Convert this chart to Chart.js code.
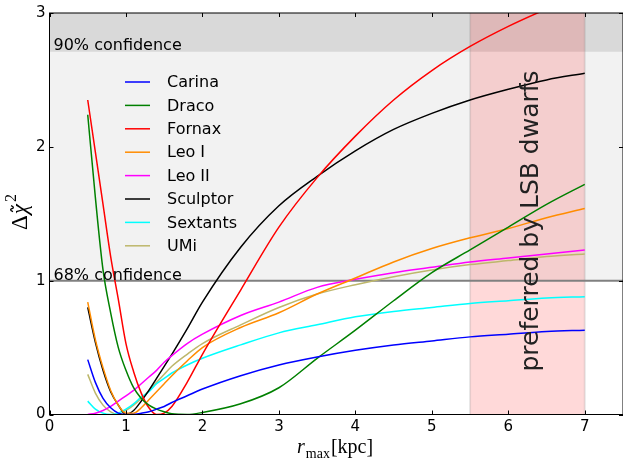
<!DOCTYPE html>
<html>
<head>
<meta charset="utf-8">
<script src="https://cdn.jsdelivr.net/npm/chart.js@4.4.1/dist/chart.umd.min.js"></script>
<style>
  html, body { margin: 0; padding: 0; background: #fff; }
  canvas { display: block; }
</style>
</head>
<body>
<canvas id="chi2Chart" width="623" height="461"></canvas>
<script>
// r_max grid (kpc) shared by all dwarfs
const rmax = [0.5, 0.6, 0.7, 0.8, 0.9, 1.0, 1.1, 1.2, 1.3, 1.4, 1.5, 1.6, 1.8, 2.0, 2.5, 3.0, 3.5, 4.0, 4.5, 5.0, 5.5, 6.0, 6.5, 7.0];

const carina   = [0.41, 0.24, 0.12, 0.05, 0.01, 0.0, 0.0, 0.01, 0.02, 0.04, 0.06, 0.09, 0.14, 0.19, 0.29, 0.37, 0.43, 0.48, 0.52, 0.55, 0.58, 0.60, 0.62, 0.63];
const draco    = [2.24, 1.62, 1.08, 0.76, 0.50, 0.33, 0.20, 0.12, 0.07, 0.04, 0.02, 0.005, 0.0, 0.015, 0.08, 0.20, 0.42, 0.63, 0.85, 1.06, 1.23, 1.40, 1.57, 1.72];
const fornax   = [2.35, 1.96, 1.57, 1.18, 0.86, 0.53, 0.32, 0.16, 0.05, 0.0, 0.01, 0.06, 0.24, 0.45, 0.93, 1.40, 1.77, 2.08, 2.35, 2.57, 2.75, 2.90, 3.03, 3.15];
const leoI     = [0.84, 0.56, 0.35, 0.18, 0.07, 0.01, 0.01, 0.05, 0.11, 0.17, 0.23, 0.29, 0.40, 0.50, 0.65, 0.76, 0.90, 1.02, 1.14, 1.24, 1.32, 1.39, 1.47, 1.54];
const leoII    = [0.0, 0.01, 0.03, 0.06, 0.10, 0.14, 0.18, 0.23, 0.28, 0.33, 0.39, 0.44, 0.53, 0.60, 0.74, 0.84, 0.95, 1.01, 1.06, 1.10, 1.14, 1.17, 1.20, 1.23];
const sculptor = [0.80, 0.54, 0.33, 0.17, 0.07, 0.0, 0.03, 0.10, 0.18, 0.27, 0.36, 0.45, 0.64, 0.84, 1.25, 1.56, 1.78, 1.97, 2.13, 2.25, 2.35, 2.43, 2.50, 2.55];
const sextants = [0.10, 0.04, 0.01, 0.0, 0.01, 0.04, 0.08, 0.13, 0.17, 0.23, 0.27, 0.31, 0.37, 0.42, 0.52, 0.61, 0.67, 0.73, 0.77, 0.80, 0.83, 0.85, 0.87, 0.88];
const umi      = [0.30, 0.16, 0.07, 0.02, 0.0, 0.03, 0.07, 0.12, 0.18, 0.24, 0.30, 0.36, 0.45, 0.53, 0.67, 0.80, 0.90, 0.97, 1.03, 1.08, 1.12, 1.15, 1.18, 1.20];

const names  = ['Carina', 'Draco', 'Fornax', 'Leo I', 'Leo II', 'Sculptor', 'Sextants', 'UMi'];
const series = [carina, draco, fornax, leoI, leoII, sculptor, sextants, umi];
const colors = ['#0000ff', '#008000', '#ff0000', '#ff8c00', '#ff00ff', '#000000', '#00ffff', '#bdb76b'];

const xTicks = [0, 1, 2, 3, 4, 5, 6, 7];
const yTicks = [0, 1, 2, 3];

// confidence levels and the LSB-preferred range
const conf68 = 1.0;
const conf90 = 2.71;
const lsbRange = [5.5, 7.0];

const sans = '"DejaVu Sans", sans-serif';
const serif = '"Liberation Serif", "DejaVu Serif", serif';

const decor = {
    id: 'decor',
    beforeDatasetsDraw(chart) {
        const { ctx, chartArea: a, scales: { x, y } } = chart;
        ctx.save();
        // confidence bands
        ctx.fillStyle = '#f2f2f2';
        ctx.fillRect(a.left, y.getPixelForValue(conf90), a.right - a.left, y.getPixelForValue(conf68) - y.getPixelForValue(conf90));
        ctx.fillStyle = '#d9d9d9';
        ctx.fillRect(a.left, a.top, a.right - a.left, y.getPixelForValue(conf90) - a.top);
        // LSB band
        const x0 = x.getPixelForValue(lsbRange[0]);
        const x1 = x.getPixelForValue(lsbRange[1]);
        ctx.fillStyle = 'rgba(255,0,0,0.15)';
        ctx.fillRect(x0, a.top, x1 - x0, a.bottom - a.top);
        ctx.strokeStyle = 'rgba(128,128,128,0.2)';
        ctx.lineWidth = 2;
        ctx.beginPath();
        ctx.moveTo(x0, a.top); ctx.lineTo(x0, a.bottom);
        ctx.moveTo(x1, a.top); ctx.lineTo(x1, a.bottom);
        ctx.stroke();
        // 68% line
        const y68 = y.getPixelForValue(conf68);
        ctx.strokeStyle = '#808080';
        ctx.lineWidth = 2;
        ctx.beginPath();
        ctx.moveTo(a.left, y68); ctx.lineTo(a.right, y68);
        ctx.stroke();
        ctx.restore();
    },
    afterDatasetsDraw(chart) {
        const { ctx, chartArea: a, scales: { x, y } } = chart;
        ctx.save();
        ctx.fillStyle = '#000';
        ctx.font = '16px ' + sans;
        ctx.textAlign = 'left';
        ctx.textBaseline = 'alphabetic';
        ctx.fillText('90% confidence', a.left + 4, y.getPixelForValue(conf90) - 2);
        ctx.fillText('68% confidence', a.left + 4, y.getPixelForValue(conf68) - 1);

        // rotated band label
        ctx.save();
        ctx.translate(538, 221);
        ctx.rotate(-Math.PI / 2);
        ctx.font = '25px ' + sans;
        ctx.fillStyle = '#222';
        ctx.textAlign = 'center';
        ctx.fillText('preferred by LSB dwarfs', 0, 0);
        ctx.restore();

        // legend (no frame)
        ctx.textBaseline = 'middle';
        ctx.font = '16px ' + sans;
        chart.data.datasets.forEach((ds, i) => {
            const ly = 82 + i * 23.4;
            ctx.strokeStyle = ds.borderColor;
            ctx.lineWidth = 1.5;
            ctx.beginPath();
            ctx.moveTo(125, ly); ctx.lineTo(150, ly);
            ctx.stroke();
            ctx.fillStyle = '#000';
            ctx.fillText(ds.label, 167, ly + 1);
        });

        // inward ticks on all four sides
        ctx.strokeStyle = '#000';
        ctx.lineWidth = 1;
        ctx.beginPath();
        xTicks.forEach(v => {
            const px = Math.round(x.getPixelForValue(v)) + 0.5;
            ctx.moveTo(px, a.bottom); ctx.lineTo(px, a.bottom - 4);
            ctx.moveTo(px, a.top); ctx.lineTo(px, a.top + 4);
        });
        yTicks.forEach(v => {
            const py = Math.round(y.getPixelForValue(v)) + 0.5;
            ctx.moveTo(a.left, py); ctx.lineTo(a.left + 4, py);
            ctx.moveTo(a.right, py); ctx.lineTo(a.right - 4, py);
        });
        ctx.stroke();
        ctx.strokeRect(a.left, a.top, a.right - a.left, a.bottom - a.top);

        // x axis label: r_max [kpc]
        ctx.textBaseline = 'alphabetic';
        ctx.textAlign = 'left';
        let cx = 297;
        const by = 453;
        ctx.font = 'italic 20px ' + serif;
        ctx.fillText('r', cx, by);
        cx += ctx.measureText('r').width + 1;
        ctx.font = '14px ' + serif;
        ctx.fillText('max', cx, by + 5);
        cx += ctx.measureText('max').width + 1;
        ctx.font = '20px ' + serif;
        ctx.fillText('[kpc]', cx, by);

        // y axis label: delta chi-tilde squared
        ctx.save();
        ctx.translate(27, 212);
        ctx.rotate(-Math.PI / 2);
        ctx.font = '23px ' + serif;
        const wD = ctx.measureText('Δ').width;
        ctx.font = 'italic 23px ' + serif;
        const wC = ctx.measureText('χ').width;
        ctx.font = '16px ' + serif;
        const w2 = ctx.measureText('2').width;
        let tx = -(wD + wC + w2 + 3) / 2;
        ctx.font = '23px ' + serif;
        ctx.fillText('Δ', tx, 0);
        tx += wD + 1;
        ctx.font = 'italic 23px ' + serif;
        ctx.fillText('χ', tx, 0);
        // tilde accent over chi
        const tl = tx + wC * 0.25, tw = wC * 0.6, ty = -15;
        ctx.lineWidth = 1.3;
        ctx.strokeStyle = '#000';
        ctx.beginPath();
        ctx.moveTo(tl, ty + 1);
        ctx.bezierCurveTo(tl + tw * 0.25, ty - 3, tl + tw * 0.45, ty - 1, tl + tw * 0.5, ty);
        ctx.bezierCurveTo(tl + tw * 0.55, ty + 1, tl + tw * 0.75, ty + 3, tl + tw, ty - 1);
        ctx.stroke();
        tx += wC + 2;
        ctx.font = '16px ' + serif;
        ctx.fillText('2', tx, -11);
        ctx.restore();

        ctx.restore();
    }
};

new Chart(document.getElementById('chi2Chart').getContext('2d'), {
    type: 'line',
    data: {
        datasets: names.map((name, i) => ({
            label: name,
            data: rmax.map((r, j) => ({ x: r, y: series[i][j] })),
            borderColor: colors[i],
            backgroundColor: colors[i],
            borderWidth: 1.5,
            pointRadius: 0,
            fill: false,
            cubicInterpolationMode: 'monotone'
        }))
    },
    options: {
        responsive: false,
        animation: false,
        devicePixelRatio: 1,
        layout: { padding: { top: 12.5, left: 0, right: 0, bottom: 0 } },
        plugins: { legend: { display: false }, tooltip: { enabled: false } },
        scales: {
            x: {
                type: 'linear',
                min: 0,
                max: 7.5,
                afterBuildTicks: s => { s.ticks = xTicks.map(v => ({ value: v })); },
                afterFit: s => { s.height = 46.5; },
                grid: { display: false, drawTicks: false },
                border: { display: false },
                ticks: { color: '#000', padding: 4, maxRotation: 0, font: { size: 15, family: sans } }
            },
            y: {
                type: 'linear',
                min: 0,
                max: 3,
                afterBuildTicks: s => { s.ticks = yTicks.map(v => ({ value: v })); },
                afterFit: s => { s.width = 49.5; },
                grid: { display: false, drawTicks: false },
                border: { display: false },
                ticks: { color: '#000', padding: 4, font: { size: 15, family: sans } }
            }
        }
    },
    plugins: [decor]
});
</script>
</body>
</html>
